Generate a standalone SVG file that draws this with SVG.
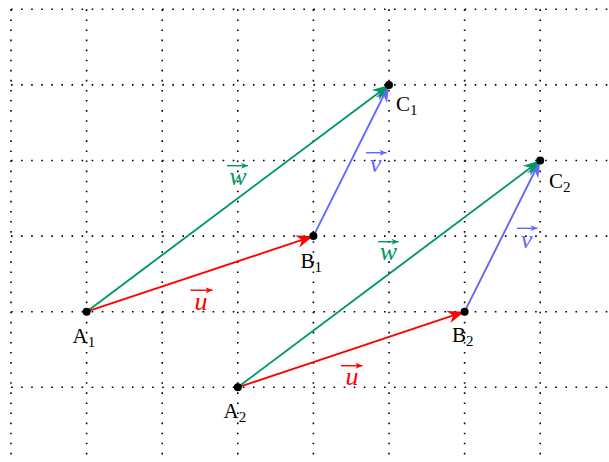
<svg xmlns="http://www.w3.org/2000/svg" width="609" height="462" viewBox="0 0 609 462">
<style>
.grid line{stroke:#000;stroke-width:1.6;stroke-dasharray:1.6 8.48}
.pt{font-family:"Liberation Serif","Times New Roman",serif;font-size:21px;fill:#000}
.sub{font-size:15px}
.vl{font-family:"Liberation Serif","Times New Roman",serif;font-style:italic;font-size:26px;text-anchor:middle}
.conn{stroke-width:1.9;fill:none}
.u{stroke:#ff0000}.v{stroke:#6666ff}.w{stroke:#009966}
.vec{stroke-width:1.4;fill:none}
</style>
<defs>
<marker id="mu" viewBox="-18 -7 19 14" refX="0" refY="0" markerWidth="19" markerHeight="14" markerUnits="userSpaceOnUse" orient="auto"><path d="M0,0 L-17,-6.3 L-12,0 L-17,6.3 Z" fill="#ff0000"/></marker>
<marker id="mv" viewBox="-18 -7 19 14" refX="0" refY="0" markerWidth="19" markerHeight="14" markerUnits="userSpaceOnUse" orient="auto"><path d="M0,0 L-17,-6.3 L-12,0 L-17,6.3 Z" fill="#6666ff"/></marker>
<marker id="mw" viewBox="-18 -7 19 14" refX="0" refY="0" markerWidth="19" markerHeight="14" markerUnits="userSpaceOnUse" orient="auto"><path d="M0,0 L-17,-6.3 L-12,0 L-17,6.3 Z" fill="#009966"/></marker>
<marker id="su" viewBox="-8 -4 9 8" refX="0" refY="0" markerWidth="9" markerHeight="8" markerUnits="userSpaceOnUse" orient="auto"><path d="M0,0 L-7,-3 L-5,0 L-7,3 Z" fill="#ff0000"/></marker>
<marker id="sv" viewBox="-8 -4 9 8" refX="0" refY="0" markerWidth="9" markerHeight="8" markerUnits="userSpaceOnUse" orient="auto"><path d="M0,0 L-7,-3 L-5,0 L-7,3 Z" fill="#6666ff"/></marker>
<marker id="sw" viewBox="-8 -4 9 8" refX="0" refY="0" markerWidth="9" markerHeight="8" markerUnits="userSpaceOnUse" orient="auto"><path d="M0,0 L-7,-3 L-5,0 L-7,3 Z" fill="#009966"/></marker>
</defs>
<rect width="609" height="462" fill="#fff"/>
<g class="grid" id="grid">
<line x1="11" y1="9.3" x2="609" y2="9.3"/>
<line x1="11" y1="84.9" x2="609" y2="84.9"/>
<line x1="11" y1="160.5" x2="609" y2="160.5"/>
<line x1="11" y1="236.1" x2="609" y2="236.1"/>
<line x1="11" y1="311.7" x2="609" y2="311.7"/>
<line x1="11" y1="387.3" x2="609" y2="387.3"/>
<line x1="11" y1="9.3" x2="11" y2="462"/>
<line x1="86.6" y1="9.3" x2="86.6" y2="462"/>
<line x1="162.2" y1="9.3" x2="162.2" y2="462"/>
<line x1="237.8" y1="9.3" x2="237.8" y2="462"/>
<line x1="313.4" y1="9.3" x2="313.4" y2="462"/>
<line x1="389" y1="9.3" x2="389" y2="462"/>
<line x1="464.6" y1="9.3" x2="464.6" y2="462"/>
<line x1="540.2" y1="9.3" x2="540.2" y2="462"/>
</g>
<g id="connectors">
<line class="conn u" x1="86.6" y1="311.7" x2="313.4" y2="236.1" marker-end="url(#mu)"/>
<line class="conn v" x1="313.4" y1="236.1" x2="389" y2="84.9" marker-end="url(#mv)"/>
<line class="conn w" x1="86.6" y1="311.7" x2="389" y2="84.9" marker-end="url(#mw)"/>
<line class="conn u" x1="237.8" y1="387.3" x2="464.6" y2="311.7" marker-end="url(#mu)"/>
<line class="conn v" x1="464.6" y1="311.7" x2="540.2" y2="160.5" marker-end="url(#mv)"/>
<line class="conn w" x1="237.8" y1="387.3" x2="540.2" y2="160.5" marker-end="url(#mw)"/>
</g>
<g id="vector-labels">
<g id="u1"><text class="vl" x="201" y="309.5" fill="#ff0000">u</text><line class="vec u" x1="190.5" y1="290.2" x2="212.5" y2="290.2" marker-end="url(#su)"/></g>
<g id="u2"><text class="vl" x="352" y="385" fill="#ff0000">u</text><line class="vec u" x1="341" y1="365.7" x2="362.5" y2="365.7" marker-end="url(#su)"/></g>
<g id="v1"><text class="vl" x="375.5" y="172" fill="#6666ff">v</text><line class="vec v" x1="366" y1="152.7" x2="386.5" y2="152.7" marker-end="url(#sv)"/></g>
<g id="v2"><text class="vl" x="526.5" y="248" fill="#6666ff">v</text><line class="vec v" x1="517" y1="228.3" x2="537.5" y2="228.3" marker-end="url(#sv)"/></g>
<g id="w1"><text class="vl" x="238" y="185" fill="#009966">w</text><line class="vec w" x1="227" y1="165.7" x2="248" y2="165.7" marker-end="url(#sw)"/></g>
<g id="w2"><text class="vl" x="388.5" y="260" fill="#009966">w</text><line class="vec w" x1="378" y1="241.7" x2="398.5" y2="241.7" marker-end="url(#sw)"/></g>
</g>
<g id="A1"><circle cx="86.6" cy="311.7" r="4"/><text class="pt" x="72.5" y="343">A<tspan class="sub" dy="4">1</tspan></text></g>
<g id="B1"><circle cx="313.4" cy="236.1" r="4"/><text class="pt" x="300.5" y="268">B<tspan class="sub" dy="4">1</tspan></text></g>
<g id="C1"><circle cx="389" cy="84.9" r="4"/><text class="pt" x="396" y="111">C<tspan class="sub" dy="4">1</tspan></text></g>
<g id="A2"><circle cx="237.8" cy="387.3" r="4"/><text class="pt" x="223.5" y="418">A<tspan class="sub" dy="4">2</tspan></text></g>
<g id="B2"><circle cx="464.6" cy="311.7" r="4"/><text class="pt" x="452" y="342">B<tspan class="sub" dy="4">2</tspan></text></g>
<g id="C2"><circle cx="540.2" cy="160.5" r="4"/><text class="pt" x="549" y="188">C<tspan class="sub" dy="4">2</tspan></text></g>
</svg>
